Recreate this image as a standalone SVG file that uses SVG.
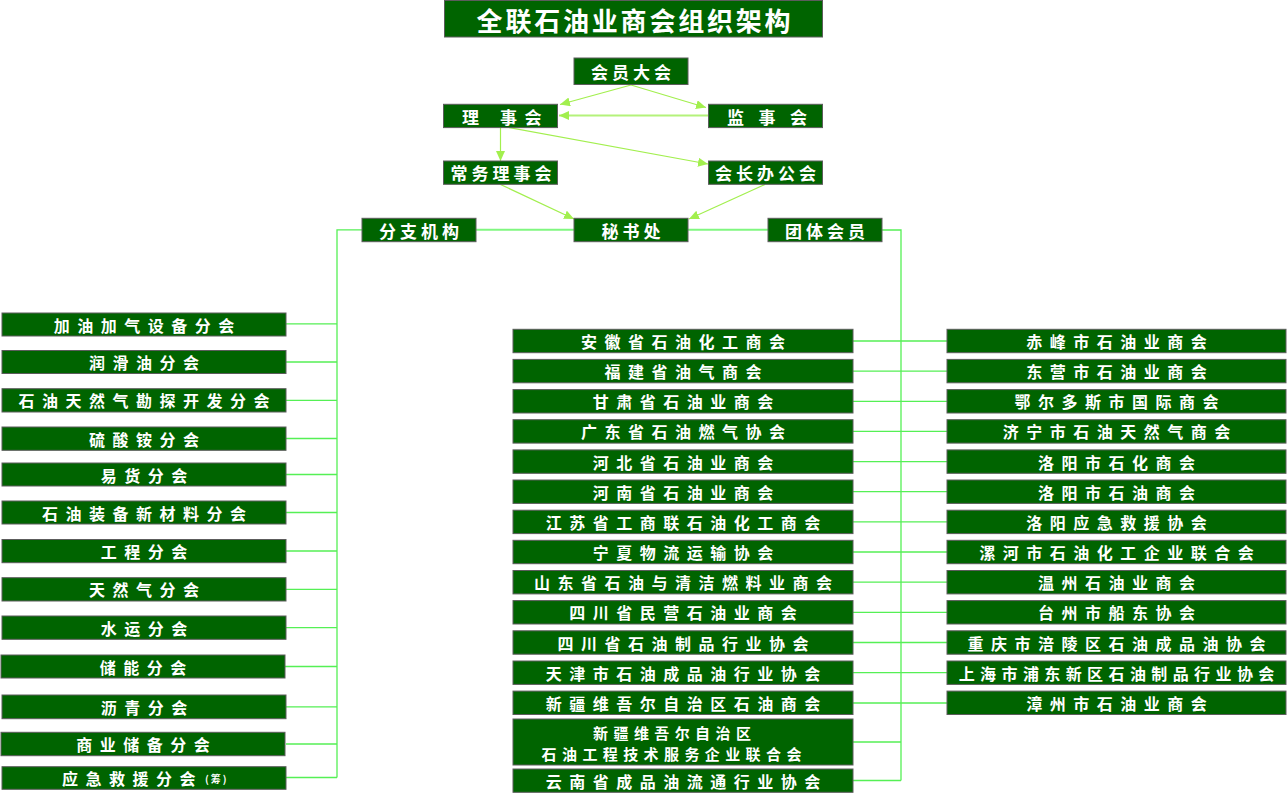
<svg xmlns="http://www.w3.org/2000/svg" width="1287" height="793" viewBox="0 0 1287 793">
<style>
.box{fill:#006400;stroke:#5c5c5c;stroke-width:1}
.t{font-family:"Noto Sans CJK SC","Noto Sans CJK JP",sans-serif;fill:#ffffff;font-weight:bold;font-size:16px;letter-spacing:7.5px;text-anchor:middle;dominant-baseline:central}
.tt{font-size:17px;letter-spacing:4px}
.arr{stroke:#a2ef4e;stroke-width:1.2;fill:none;marker-end:url(#ah)}
.ln{stroke:#55f055;stroke-width:1.3;fill:none}
.ln2{stroke:#80f780;stroke-width:2;fill:none}
</style>
<defs>
<marker id="ah" markerUnits="userSpaceOnUse" markerWidth="11" markerHeight="9" refX="10" refY="4.5" orient="auto">
<path d="M0,0 L10,4.5 L0,9 z" fill="#a2ef4e"/>
</marker>
</defs>
<rect width="1287" height="793" fill="#ffffff"/>

<g id="connectors">
<line class="arr" x1="631" y1="85" x2="560" y2="104.5"/>
<line class="arr" x1="631" y1="85" x2="706" y2="107.5"/>
<line class="arr" x1="708" y1="115.5" x2="559" y2="115.5" style="stroke-width:2;stroke:#b4f27a"/>
<line class="arr" x1="500.5" y1="127.5" x2="500.5" y2="161"/>
<line class="arr" x1="500.5" y1="126" x2="708" y2="164"/>
<line class="arr" x1="500.5" y1="184.5" x2="574" y2="219"/>
<line class="arr" x1="765" y1="184.5" x2="689" y2="219"/>
<line class="ln2" x1="476" y1="229.8" x2="574" y2="229.8"/>
<line class="ln2" x1="688" y1="229.8" x2="768" y2="229.8"/>
<polyline class="ln" points="362,229.8 337,229.8 337,777.5"/>
<polyline class="ln" points="882,230 901,230 901,780.5"/>
<path class="ln" d="M286,323.8H337 M286,362H337 M286,400.3H337 M286,438.5H337 M286,474.5H337 M286,512.5H337 M286,551H337 M286,589.3H337 M286,627.7H337 M285,666.5H337 M286,706.8H337 M286,744H337 M286,777.5H337"/>
<path class="ln" d="M853,341H947 M853,371.1H947 M853,401.3H947 M853,431.4H947 M853,461.6H947 M853,491.7H947 M853,521.9H947 M853,552H947 M853,582.2H947 M853,612.3H947 M853,642.5H947 M853,672.7H947 M853,703H947 M853,742H901 M853,780.5H901"/>
</g>

<g id="title"><rect class="box" x="444.5" y="0.5" width="378" height="36.5"/><text class="t" x="635" y="19" style="font-size:26px;letter-spacing:2.8px">全联石油业商会组织架构</text></g>

<g id="n-hyzd"><rect class="box" x="574" y="58" width="114" height="26.5"/><text class="t tt" x="633" y="71.5">会员大会</text></g>
<g id="n-lsh"><rect class="box" x="443.5" y="104.3" width="114" height="23.3"/><text class="t tt" y="116" style="text-anchor:start;letter-spacing:0" xml:space="preserve"><tspan x="462">理</tspan><tspan x="480"> </tspan><tspan x="500">事</tspan><tspan x="518"> </tspan><tspan x="524.5">会</tspan></text></g>
<g id="n-jsh"><rect class="box" x="708.5" y="104.3" width="114" height="23.3"/><text class="t tt" y="116" style="text-anchor:start;letter-spacing:0" xml:space="preserve"><tspan x="727">监</tspan><tspan x="742.5"> </tspan><tspan x="758.5">事</tspan><tspan x="774"> </tspan><tspan x="790">会</tspan></text></g>
<g id="n-cwlsh"><rect class="box" x="443.5" y="161" width="114" height="23.3"/><text class="t tt" x="503" y="172.7">常务理事会</text></g>
<g id="n-hzbgh"><rect class="box" x="708.5" y="161" width="114" height="23.3"/><text class="t tt" x="767.5" y="172.7">会长办公会</text></g>
<g id="n-fzjg"><rect class="box" x="362" y="218.3" width="114" height="23.4"/><text class="t tt" x="421" y="230">分支机构</text></g>
<g id="n-msc"><rect class="box" x="574" y="218.3" width="114" height="23.4"/><text class="t tt" x="633" y="230">秘书处</text></g>
<g id="n-tthy"><rect class="box" x="768" y="218.3" width="114" height="23.4"/><text class="t tt" x="827" y="230">团体会员</text></g>

<g id="l1"><rect class="box" x="2" y="313" width="284" height="23"/><text class="t" x="147.75" y="324.5">加油加气设备分会</text></g>
<g id="l2"><rect class="box" x="2" y="350.5" width="284" height="23"/><text class="t" x="147.75" y="362">润滑油分会</text></g>
<g id="l3"><rect class="box" x="2" y="388.7" width="284" height="23.3"/><text class="t" x="147.75" y="400.3">石油天然气勘探开发分会</text></g>
<g id="l4"><rect class="box" x="2" y="427" width="284" height="23.3"/><text class="t" x="147.75" y="438.7">硫酸铵分会</text></g>
<g id="l5"><rect class="box" x="2" y="463" width="284" height="23"/><text class="t" x="147.75" y="474.5">易货分会</text></g>
<g id="l6"><rect class="box" x="2" y="501" width="284" height="23"/><text class="t" x="147.75" y="512.5">石油装备新材料分会</text></g>
<g id="l7"><rect class="box" x="2" y="539.5" width="284" height="23.2"/><text class="t" x="147.75" y="551.1">工程分会</text></g>
<g id="l8"><rect class="box" x="2" y="577.7" width="284" height="23.3"/><text class="t" x="147.75" y="589.3">天然气分会</text></g>
<g id="l9"><rect class="box" x="2" y="616" width="284" height="23.3"/><text class="t" x="147.75" y="627.7">水运分会</text></g>
<g id="l10"><rect class="box" x="1" y="655" width="284" height="23"/><text class="t" x="146.75" y="666.5">储能分会</text></g>
<g id="l11"><rect class="box" x="2" y="695" width="284" height="23.7"/><text class="t" x="147.75" y="706.8">沥青分会</text></g>
<g id="l12"><rect class="box" x="1" y="732.3" width="284" height="23.4"/><text class="t" x="146.75" y="744">商业储备分会</text></g>
<g id="l13"><rect class="box" x="2" y="766.7" width="284" height="22.6"/><text class="t" x="62" y="778" style="text-anchor:start">应急救援分会<tspan dx="2" style="font-size:10px;letter-spacing:2px">(筹)</tspan></text></g>

<g id="m1"><rect class="box" x="513" y="329.3" width="340" height="23.4"/><text class="t" x="686.75" y="341">安徽省石油化工商会</text></g>
<g id="m2"><rect class="box" x="513" y="359.4" width="340" height="23.4"/><text class="t" x="686.75" y="371.1">福建省油气商会</text></g>
<g id="m3"><rect class="box" x="513" y="389.6" width="340" height="23.4"/><text class="t" x="686.75" y="401.3">甘肃省石油业商会</text></g>
<g id="m4"><rect class="box" x="513" y="419.7" width="340" height="23.4"/><text class="t" x="686.75" y="431.4">广东省石油燃气协会</text></g>
<g id="m5"><rect class="box" x="513" y="449.9" width="340" height="23.4"/><text class="t" x="686.75" y="461.6">河北省石油业商会</text></g>
<g id="m6"><rect class="box" x="513" y="480" width="340" height="23.4"/><text class="t" x="686.75" y="491.7">河南省石油业商会</text></g>
<g id="m7"><rect class="box" x="513" y="510.2" width="340" height="23.4"/><text class="t" x="686.75" y="521.9">江苏省工商联石油化工商会</text></g>
<g id="m8"><rect class="box" x="513" y="540.3" width="340" height="23.4"/><text class="t" x="686.75" y="552">宁夏物流运输协会</text></g>
<g id="m9"><rect class="box" x="513" y="570.5" width="340" height="23.4"/><text class="t" x="686.75" y="582.2">山东省石油与清洁燃料业商会</text></g>
<g id="m10"><rect class="box" x="513" y="600.6" width="340" height="23.4"/><text class="t" x="686.75" y="612.3">四川省民营石油业商会</text></g>
<g id="m11"><rect class="box" x="513" y="630.8" width="340" height="23.4"/><text class="t" x="686.75" y="642.5">四川省石油制品行业协会</text></g>
<g id="m12"><rect class="box" x="513" y="661" width="340" height="23.4"/><text class="t" x="686.75" y="672.7">天津市石油成品油行业协会</text></g>
<g id="m13"><rect class="box" x="513" y="691.1" width="340" height="23.4"/><text class="t" x="686.75" y="702.8">新疆维吾尔自治区石油商会</text></g>
<g id="m14"><rect class="box" x="513" y="719" width="340" height="46"/><text class="t" x="674.7" y="732.5" style="font-size:15px;letter-spacing:5.4px">新疆维吾尔自治区</text><text class="t" x="674.2" y="753.3" style="font-size:15px;letter-spacing:5.4px">石油工程技术服务企业联合会</text></g>
<g id="m15"><rect class="box" x="513" y="769" width="340" height="23.3"/><text class="t" x="686.75" y="780.6">云南省成品油流通行业协会</text></g>

<g id="r1"><rect class="box" x="947" y="329.3" width="339" height="23.4"/><text class="t" x="1120.25" y="341">赤峰市石油业商会</text></g>
<g id="r2"><rect class="box" x="947" y="359.4" width="339" height="23.4"/><text class="t" x="1120.25" y="371.1">东营市石油业商会</text></g>
<g id="r3"><rect class="box" x="947" y="389.6" width="339" height="23.4"/><text class="t" x="1120.25" y="401.3">鄂尔多斯市国际商会</text></g>
<g id="r4"><rect class="box" x="947" y="419.7" width="339" height="23.4"/><text class="t" x="1120.25" y="431.4">济宁市石油天然气商会</text></g>
<g id="r5"><rect class="box" x="947" y="449.9" width="339" height="23.4"/><text class="t" x="1120.25" y="461.6">洛阳市石化商会</text></g>
<g id="r6"><rect class="box" x="947" y="480" width="339" height="23.4"/><text class="t" x="1120.25" y="491.7">洛阳市石油商会</text></g>
<g id="r7"><rect class="box" x="947" y="510.2" width="339" height="23.4"/><text class="t" x="1120.25" y="521.9">洛阳应急救援协会</text></g>
<g id="r8"><rect class="box" x="947" y="540.3" width="339" height="23.4"/><text class="t" x="1120.25" y="552">漯河市石油化工企业联合会</text></g>
<g id="r9"><rect class="box" x="947" y="570.5" width="339" height="23.4"/><text class="t" x="1120.25" y="582.2">温州石油业商会</text></g>
<g id="r10"><rect class="box" x="947" y="600.6" width="339" height="23.4"/><text class="t" x="1120.25" y="612.3">台州市船东协会</text></g>
<g id="r11"><rect class="box" x="947" y="630.8" width="339" height="23.4"/><text class="t" x="1120.25" y="642.5">重庆市涪陵区石油成品油协会</text></g>
<g id="r12"><rect class="box" x="947" y="661" width="339" height="23.4"/><text class="t" x="1119.2" y="672.7" style="letter-spacing:5.4px">上海市浦东新区石油制品行业协会</text></g>
<g id="r13"><rect class="box" x="947" y="691.1" width="339" height="23.4"/><text class="t" x="1120.25" y="702.8">漳州市石油业商会</text></g>
</svg>
